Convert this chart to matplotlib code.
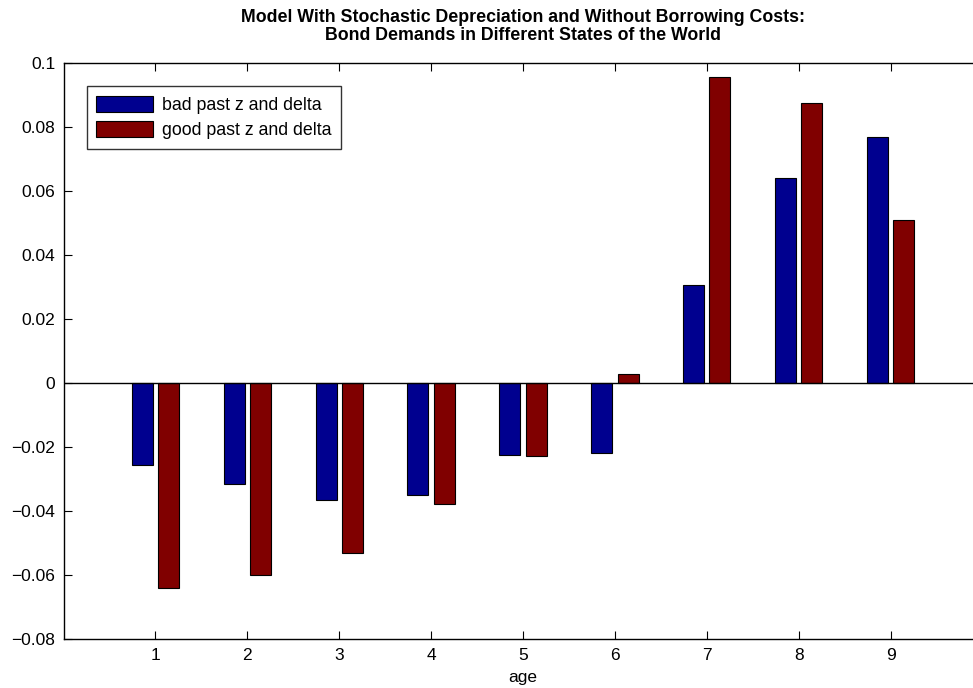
import matplotlib.pyplot as plt
import numpy as np

plt.rcParams["font.family"] = ["Liberation Sans", "DejaVu Sans"]

ages = [1, 2, 3, 4, 5, 6, 7, 8, 9]
bad_past = [-0.0256, -0.0315, -0.0365, -0.0349, -0.0223, -0.0217, 0.0306, 0.0643, 0.0769]
good_past = [-0.0640, -0.0600, -0.0530, -0.0376, -0.0228, 0.0029, 0.0956, 0.0875, 0.0509]
labels = ["bad past z and delta", "good past z and delta"]
yticks = [-0.08, -0.06, -0.04, -0.02, 0, 0.02, 0.04, 0.06, 0.08, 0.1]
ytick_labels = ["\u22120.08", "\u22120.06", "\u22120.04", "\u22120.02", "0",
                "0.02", "0.04", "0.06", "0.08", "0.1"]


def main():
    fig = plt.figure(figsize=(9.73, 6.88), dpi=100)
    # axes run a bit past the right edge of the picture, as in the reference
    ax = fig.add_axes([63.5 / 973, (688 - 639.3) / 688, 919 / 973, 576 / 688])

    x = np.array(ages)
    # MATLAB grouped bar geometry: group width 2/3.5, bar width 0.8 of slot
    slot = (2 / 3.5) / 2
    width = 0.8 * slot
    ax.bar(x - slot / 2, bad_past, width, color="#00008f", edgecolor="black",
           linewidth=0.8, label=labels[0])
    ax.bar(x + slot / 2, good_past, width, color="#800000", edgecolor="black",
           linewidth=0.8, label=labels[1])
    ax.axhline(0, color="black", linewidth=1)

    ax.set_xlim(0, 10)
    ax.set_ylim(-0.08, 0.1)
    ax.set_xticks(ages)
    ax.set_yticks(yticks)
    ax.set_yticklabels(ytick_labels)
    ax.tick_params(direction="in", top=True, right=True, length=6,
                   labelsize=12.5, pad=6)
    for s in ax.spines.values():
        s.set_linewidth(1)

    ax.set_xlabel("age", fontsize=12.5, labelpad=5)
    xc = (63.5 + 919 / 2) / 973
    fig.text(xc, 1 - 17 / 688,
             "Model With Stochastic Depreciation and Without Borrowing Costs:",
             ha="center", va="center", fontsize=12.8, fontweight="bold")
    fig.text(xc, 1 - 35 / 688,
             "Bond Demands in Different States of the World",
             ha="center", va="center", fontsize=12.8, fontweight="bold")

    leg = ax.legend(loc="upper left", bbox_to_anchor=(23 / 919, 1 - 23 / 576),
                    fontsize=12.8, frameon=True, fancybox=False,
                    borderaxespad=0, handlelength=3.2, handleheight=1.0,
                    handletextpad=0.5, labelspacing=0.4, borderpad=0.55)
    leg.get_frame().set_edgecolor("black")
    leg.get_frame().set_linewidth(1)

    fig.savefig("out.png", dpi=100)


if __name__ == "__main__":
    main()
